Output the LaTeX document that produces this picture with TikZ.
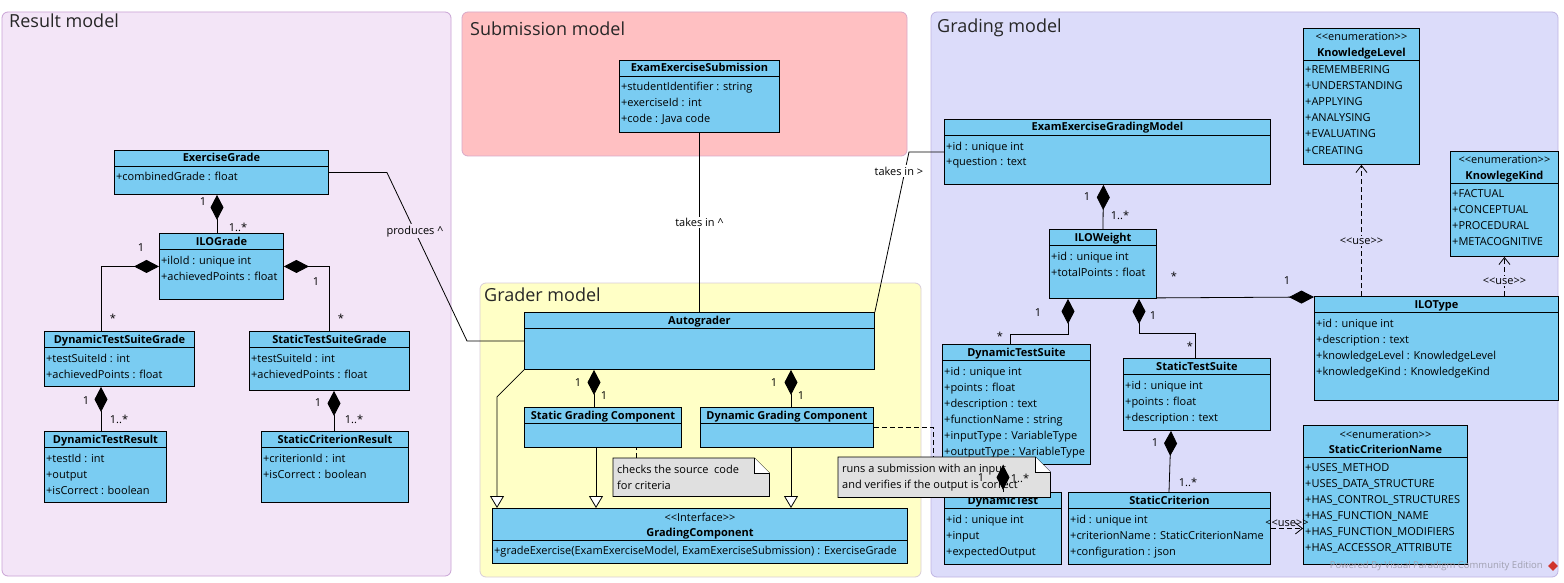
\documentclass[tikz,border=0pt]{standalone}
\usepackage{fontspec}
\setmainfont{Open Sans}
\usetikzlibrary{positioning, calc, arrows.meta}
\usepackage{xcolor}
\definecolor{ClassBlue}{HTML}{7ACCF2}
\definecolor{ResultBg}{HTML}{F3E5F7}
\definecolor{ResultLine}{HTML}{C9A3D5}
\definecolor{SubmitBg}{HTML}{FFC0C2}
\definecolor{SubmitLine}{HTML}{D8A8C8}
\definecolor{GraderBg}{HTML}{FFFFC6}
\definecolor{GraderLine}{HTML}{D8CCD8}
\definecolor{GradingBg}{HTML}{DCDCFA}
\definecolor{GradingLine}{HTML}{BFB4E2}
\definecolor{NoteGray}{HTML}{E0E0E0}
\definecolor{MarkGray}{HTML}{A0A0B0}
\definecolor{MarkRed}{HTML}{D0342C}

% <<stereotype>> without the TeX guillemet mapping
\newcommand{\ster}[1]{<\kern0pt<#1>\kern0pt>}

% class box: name, x, y, width, height, title, attributes
\newcommand{\umlclass}[7]{%
  \node[clsbox, minimum width=#4pt, minimum height=#5pt] (#1) at (#2,#3) {};
  \draw[line width=0.9pt] ($(#1.north west)+(0,16)$) -- ($(#1.north east)+(0,16)$);
  \node[clsname] (#1-name) at ($(#1.north)+(0,12)$) {#6};
  \ifx\relax#7\relax\else
    \foreach \aline [count=\idx] in {#7}
      \node[attr] (#1-\idx) at ($(#1.north west)+(2,{31+16*(\idx-1)})$) {\aline};
  \fi
}
% class box with a stereotype: name, x, y, width, height, stereotype, title, entries
\newcommand{\umlenum}[8]{%
  \node[clsbox, minimum width=#4pt, minimum height=#5pt] (#1) at (#2,#3) {};
  \draw[line width=0.9pt] ($(#1.north west)+(0,32)$) -- ($(#1.north east)+(0,32)$);
  \node[stereo] (#1-stereo) at ($(#1.north)+(0,13)$) {\ster{#6}};
  \node[clsname] (#1-name) at ($(#1.north)+(0,28.5)$) {#7};
  \foreach \aline [count=\idx] in {#8}
    \node[attr] (#1-\idx) at ($(#1.north west)+(2,{46+16*(\idx-1)})$) {\aline};
}
% note: name, x, y, width, height, text
\newcommand{\umlnote}[6]{%
  \node[anchor=north west, minimum width=#4pt, minimum height=#5pt, inner sep=0pt] (#1) at (#2,#3) {};
  \filldraw[fill=NoteGray, line width=0.8pt] (#1.north west) -- ($(#1.north east)+(-15,0)$)
    -- ($(#1.north east)+(0,15)$) -- (#1.south east) -- (#1.south west) -- cycle;
  \filldraw[fill=white, line width=0.8pt] ($(#1.north east)+(-15,0)$) -- ++(0,15) -- ++(15,0);
  \node[notetext] (#1-text) at ($(#1.west)+(4,0)$) {#6};
}

\begin{document}
\begin{tikzpicture}[
  x=1pt, y=-1pt,
  clsbox/.style={draw, fill=ClassBlue, line width=0.9pt, anchor=north west, inner sep=0pt},
  clsname/.style={font=\fontsize{11}{13}\selectfont\bfseries, anchor=base, inner sep=0pt},
  stereo/.style={font=\fontsize{11}{13}\selectfont, anchor=base, inner sep=0pt},
  attr/.style={font=\fontsize{11}{13}\selectfont, anchor=base west, inner sep=0pt},
  notetext/.style={font=\fontsize{11}{16}\selectfont, anchor=west, align=left, inner sep=0pt},
  pkgframe/.style={rounded corners=6pt, line width=0.8pt},
  pkgtitle/.style={font=\fontsize{18}{20}\selectfont, anchor=base west, inner sep=0pt, text=black!85},
  mult/.style={font=\fontsize{11}{13}\selectfont, inner sep=0pt},
  lbl/.style={font=\fontsize{11}{13}\selectfont, inner sep=1.5pt},
  link/.style={line width=0.8pt},
  compo/.style={{Diamond[length=25pt,width=13pt]}-, line width=0.8pt},
  gen/.style={-{Triangle[open,length=12pt,width=14pt,fill=white]}, line width=0.8pt},
  dep/.style={dash pattern=on 5pt off 3pt, -{Straight Barb[length=7pt,width=11pt]}, line width=0.8pt},
  notelink/.style={dash pattern=on 5pt off 3pt, line width=0.8pt},
]
  \useasboundingbox (0,0) rectangle (1564,583);
  \fill[white] (0,0) rectangle (1564,583);

  % Packages
  \filldraw[pkgframe, fill=ResultBg, draw=ResultLine] (2,12) rectangle (451,576);
  \filldraw[pkgframe, fill=SubmitBg, draw=SubmitLine] (462,12) rectangle (907,156);
  \filldraw[pkgframe, fill=GraderBg, draw=GraderLine] (480,283) rectangle (921,577);
  \filldraw[pkgframe, fill=GradingBg, draw=GradingLine] (931,12) rectangle (1558,577);
  \node[pkgtitle] (resulttitle) at (9,28) {Result model};
  \node[pkgtitle] (submittitle) at (470,36) {Submission model};
  \node[pkgtitle] (gradertitle) at (484,301) {Grader model};
  \node[pkgtitle] (gradingtitle) at (937,33) {Grading model};

  % Result model
  \umlclass{exgrade}{114}{150}{214}{44}{ExerciseGrade}{+combinedGrade : float}
  \umlclass{ilograde}{159}{233}{124}{66}{ILOGrade}{+iloId : unique int, +achievedPoints : float}
  \umlclass{dtsgrade}{44}{331}{150}{55}{DynamicTestSuiteGrade}{+testSuiteId : int, +achievedPoints : float}
  \umlclass{stsgrade}{249}{331}{160}{59}{StaticTestSuiteGrade}{+testSuiteId : int, +achievedPoints : float}
  \umlclass{dtresult}{44}{431}{122}{71}{DynamicTestResult}{+testId : int, +output, +isCorrect : boolean}
  \umlclass{scresult}{261}{431}{147}{71}{StaticCriterionResult}{+criterionId : int, +isCorrect : boolean}

  % Submission model
  \umlclass{submission}{619}{60}{160}{72}{ExamExerciseSubmission}{+studentIdentifier : string, +exerciseId : int, +code : Java code}

  % Grader model
  \umlclass{autograder}{524}{312}{350}{57}{Autograder}{}
  \umlclass{staticcomp}{524}{407}{157}{40}{Static Grading Component}{}
  \umlclass{dynamiccomp}{700}{407}{173}{40}{Dynamic Grading Component}{}
  \umlenum{gradingcomp}{492}{508}{415}{55}{Interface}{GradingComponent}{{+gradeExercise(ExamExerciseModel, ExamExerciseSubmission) : ExerciseGrade}}

  % Grading model
  \umlclass{gradingmodel}{944}{119}{326}{65}{ExamExerciseGradingModel}{+id : unique int, +question : text}
  \umlclass{iloweight}{1049}{229}{107}{69}{ILOWeight}{+id : unique int, +totalPoints : float}
  \umlenum{klevel}{1303}{28}{116}{136}{enumeration}{KnowledgeLevel}{+REMEMBERING, +UNDERSTANDING, +APPLYING, +ANALYSING, +EVALUATING, +CREATING}
  \umlenum{kkind}{1450}{151}{108}{105}{enumeration}{KnowlegeKind}{+FACTUAL, +CONCEPTUAL, +PROCEDURAL, +METACOGNITIVE}
  \umlclass{ilotype}{1314}{296}{244}{104}{ILOType}{+id : unique int, +description : text, +knowledgeLevel : KnowledgeLevel, +knowledgeKind : KnowledgeKind}
  \umlclass{dtsuite}{942}{344}{148}{120}{DynamicTestSuite}{+id : unique int, +points : float, +description : text, +functionName : string, +inputType : VariableType, +outputType : VariableType}
  \umlclass{stsuite}{1123}{358}{147}{72}{StaticTestSuite}{+id : unique int, +points : float, +description : text}
  \umlclass{dyntest}{944}{492}{117}{72}{DynamicTest}{+id : unique int, +input, +expectedOutput}
  \umlclass{scriterion}{1068}{492}{202}{72}{StaticCriterion}{+id : unique int, +criterionName : StaticCriterionName, +configuration : json}
  \umlenum{scname}{1303}{425}{164}{139}{enumeration}{StaticCriterionName}{+USES\_METHOD, +USES\_DATA\_STRUCTURE, +HAS\_CONTROL\_STRUCTURES, +HAS\_FUNCTION\_NAME, +HAS\_FUNCTION\_MODIFIERS, +HAS\_ACCESSOR\_ATTRIBUTE}

  % Notes
  \umlnote{checknote}{613}{458}{156}{38}{checks the source\ \ code\\for criteria}
  \umlnote{runnote}{838}{457}{212}{40}{runs a submission with an input\\and verifies if the output is correct}

  % Result model links
  \draw[compo] ($(exgrade.south west)+(103,0)$) -- ($(ilograde.north west)+(58,0)$);
  \draw[compo] (ilograde.west) -| ($(dtsgrade.north west)+(57,0)$);
  \draw[compo] (ilograde.east) -| ($(stsgrade.north west)+(80,0)$);
  \draw[compo] ($(dtsgrade.south west)+(57,0)$) -- ($(dtresult.north west)+(57,0)$);
  \draw[compo] ($(stsgrade.south west)+(85,0)$) -- ($(scresult.north west)+(73,0)$);

  % Links between packages
  \draw[link] (exgrade.east) -- ++(58,0) -- ($(autograder.west)+(-57,0)$)
    node[lbl, fill=ResultBg, pos=0.35] (produces) {produces \textasciicircum} -- (autograder.west);
  \draw[link] (submission.south) -- (submission.south |- autograder.north)
    node[lbl, fill=white, midway] (takesin) {takes in \textasciicircum};
  \draw[link] (autograder.north east) -- ($(gradingmodel.west)+(-35,0)$)
    node[lbl, fill=white, pos=0.88, xshift=-6pt] (takesinmodel) {takes in >} -- (gradingmodel.west);

  % Grader model links
  \coordinate (agbend) at ($(autograder.south west)+(-27,27)$);
  \coordinate (sgfoot) at ($(staticcomp.south west)+(72,0)$);
  \coordinate (dgfoot) at ($(dynamiccomp.south west)+(91,0)$);
  \coordinate (cnfoot) at ($(checknote.north west)+(23,0)$);
  \draw[compo] ($(autograder.south west)+(70,0)$) -- ($(staticcomp.north west)+(70,0)$);
  \draw[compo] ($(autograder.south west)+(267,0)$) -- ($(dynamiccomp.north west)+(91,0)$);
  \draw[gen] (autograder.south west) -- (agbend) -- (agbend |- gradingcomp.north);
  \draw[gen] (sgfoot) -- (sgfoot |- gradingcomp.north);
  \draw[gen] (dgfoot) -- (dgfoot |- gradingcomp.north);
  \draw[notelink] (cnfoot) -- (cnfoot |- staticcomp.south);
  \draw[notelink] (dynamiccomp.east) -| ($(runnote.north west)+(95,0)$);

  % Grading model links
  \draw[compo] ($(gradingmodel.south)+(-4,0)$) -- (iloweight.north);
  \draw[compo] ($(ilotype.north west)+(0,1)$) -- ($(iloweight.south east)+(0,-1)$);
  \draw[compo] ($(iloweight.south west)+(19,0)$) |- ($(dtsuite.north west)+(68,-10)$) -- ($(dtsuite.north west)+(68,0)$);
  \draw[compo] ($(iloweight.south west)+(90,0)$) |- ($(stsuite.north west)+(72,-25)$) -- ($(stsuite.north west)+(72,0)$);
  \draw[compo] ($(dtsuite.south west)+(61,0)$) -- ($(dyntest.north west)+(59,0)$);
  \draw[compo] ($(stsuite.south west)+(48,0)$) -- ($(scriterion.north west)+(101,0)$);
  \draw[dep] (ilotype.north -| klevel.south) -- (klevel.south)
    node[lbl, fill=GradingBg, pos=0.42] (uselevel) {\ster{use}};
  \draw[dep] (ilotype.north -| kkind.south) -- (kkind.south)
    node[lbl, fill=GradingBg, pos=0.38] (usekind) {\ster{use}};
  \draw[dep] (scriterion.east) -- (scriterion.east -| scname.west)
    node[lbl, midway, above] (usename) {\ster{use}};

  % Multiplicities
  \foreach \px/\py/\mtext [count=\k] in {203/202/1, 238/227/{1..*}, 141/248/1, 113/318/*,
      316/282/1, 341/318/*, 86/401/1, 119/419/{1..*}, 318/403/1, 354/419/{1..*},
      578/383/1, 604/396/1, 774/383/1, 801/396/1,
      1087/197/1, 1120/215/{1..*}, 1174/276/*, 1287/281/1, 1038/313/1, 1000/336/*,
      1153/316/1, 1190/346/*, 981/478/1, 1020/478/{1..*}, 1155/443/1, 1188/482/{1..*}}
    \node[mult] (mult\k) at (\px,\py) {\mtext};

  % Watermark
  \node[font=\fontsize{9.5}{11}\selectfont, text=MarkGray, anchor=east, inner sep=0pt] (vpmark) at (1543,566)
    {Powered By Visual Paradigm Community Edition};
  \node[fill=MarkRed, rotate=45, minimum size=7pt, inner sep=0pt] (vplogo) at (1553,566) {};
\end{tikzpicture}
\end{document}
